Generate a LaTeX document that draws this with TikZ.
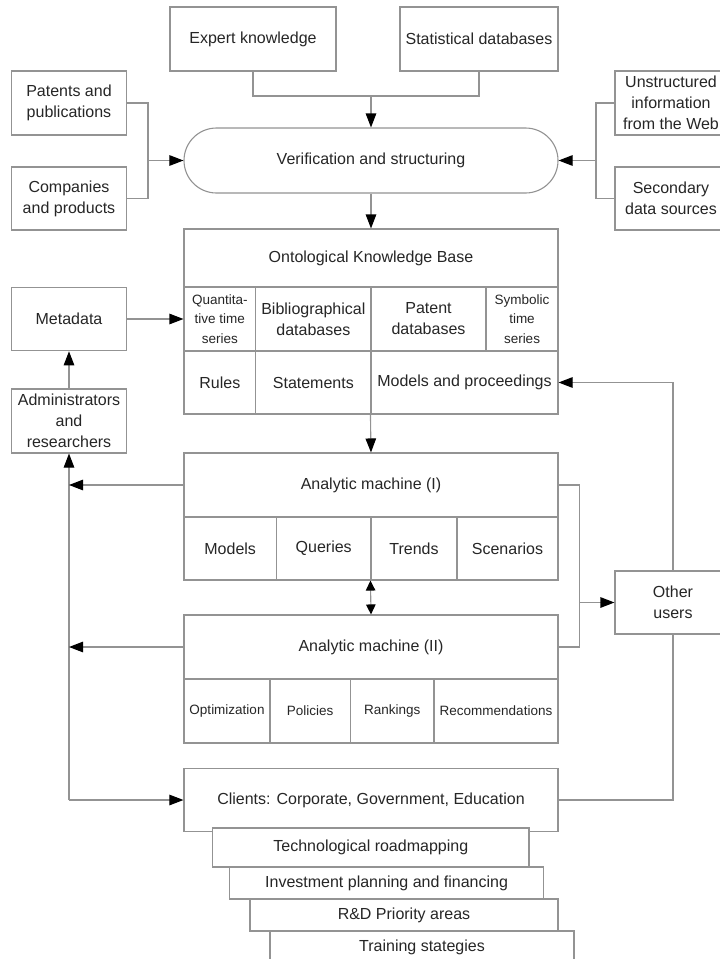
\documentclass[tikz,border=0pt]{standalone}
\usepackage{fontspec}
\setmainfont{Liberation Sans}
\usetikzlibrary{arrows.meta}
\begin{document}
\begin{tikzpicture}[x=1bp,y=-1bp,line width=1.1bp,
    bx/.style={draw=gray!85,fill=white,inner sep=1bp,align=center,text=black!85,
        font=\fontsize{16bp}{21bp}\selectfont},
    sbx/.style={font=\fontsize{13.5bp}{19.5bp}\selectfont},
    sz/.style 2 args={minimum width=#1bp,minimum height=#2bp},
    ln/.style={draw=gray!85},
    arr/.style={ln,-{Triangle[length=14bp,width=10.5bp,color=black]}},
    darr/.style={ln,{Triangle[length=10bp,width=9.5bp,color=black]}-{Triangle[length=10bp,width=9.5bp,color=black]}}]
\useasboundingbox (0,0) rectangle (720,959);
\node[bx,sz={166}{64}] (ek) at (253,39) {Expert knowledge};
\node[bx,sz={158}{64}] (sd) at (479,39) {Statistical databases};
\node[bx,sz={374}{65},rounded corners=32.5bp] (vs) at (371,160.5) {Verification and structuring};
\node[bx,sz={115.5}{64}] (pp) at (69,103) {Patents and\\publications};
\node[bx,sz={115.5}{63}] (cp) at (69,198.5) {Companies\\and products};
\node[bx,sz={112}{64}] (uw) at (671,103) {Unstructured\\information\\from the Web};
\node[bx,sz={112}{63}] (ds) at (671,198.5) {Secondary\\data sources};
\node[bx,sz={374}{58}] (kb) at (371,258) {Ontological Knowledge Base};
\node[bx,sbx,sz={71.7}{64}] (qt) at (219.85,319) {Quantita-\\tive time\\series};
\node[bx,sz={115.3}{64}] (bd) at (313.35,319) {Bibliographical\\databases};
\node[bx,sz={115}{64}] (pd) at (428.5,319) {Patent\\databases};
\node[bx,sbx,sz={72}{64}] (st) at (522,319) {Symbolic\\time\\series};
\node[bx,sz={71.7}{63}] (ru) at (219.85,382.5) {Rules};
\node[bx,sz={115.3}{63}] (sm) at (313.35,382.5) {Statements};
\node[bx,sz={187}{63}] (mp) at (464.5,382.5) {Models and proceedings};
\node[bx,sz={115.5}{63.5}] (md) at (69,319) {Metadata};
\node[bx,sz={115.5}{64}] (ad) at (69,421) {Administrators\\and\\researchers};
\node[bx,sz={374}{64}] (a1) at (371,485) {Analytic machine (I)};
\node[bx,sz={92.4}{63}] (mo) at (230.2,548.5) {Models};
\node[bx,sz={94.6}{63}] (qu) at (323.7,548.5) {Queries};
\node[bx,sz={86}{63}] (tr) at (414,548.5) {Trends};
\node[bx,sz={101}{63}] (sc) at (507.5,548.5) {Scenarios};
\node[bx,sz={374}{64}] (a2) at (371,647) {Analytic machine (II)};
\node[bx,sbx,sz={86}{64}] (op) at (227,711) {Optimization};
\node[bx,sbx,sz={80.3}{64}] (po) at (310.15,711) {Policies};
\node[bx,sbx,sz={83.7}{64}] (rk) at (392.15,711) {Rankings};
\node[bx,sbx,sz={124}{64}] (rc) at (496,711) {Recommendations};
\node[bx,sz={116}{63}] (ou) at (673,602.5) {Other\\users};
\node[bx,sz={374}{63.5}] (cl) at (371,800) {Clients: Corporate, Government, Education};
\node[bx,sz={316.4}{39}] (tro) at (370.8,847.5) {Technological roadmapping};
\node[bx,sz={314}{32}] (ipf) at (386.6,883) {Investment planning and financing};
\node[bx,sz={308}{32}] (rdp) at (404,915) {R\&D Priority areas};
\node[bx,sz={304}{32}] (tsg) at (422,947) {Training stategies};
\coordinate (j1) at (371,96);
\coordinate (lb) at (148,160.5);
\coordinate (rb) at (596,160.5);
\coordinate (lv) at (69,800);
\coordinate (mb) at (579.4,602.5);
\draw[ln] (ek.south) |- (j1) -| (sd.south);
\draw[arr] (j1) -- (vs.north);
\draw[ln] (pp.east) -| (lb) |- (cp.east);
\draw[arr] (lb) -- (vs.west);
\draw[ln] (uw.west) -| (rb) |- (ds.west);
\draw[arr] (rb) -- (vs.east);
\draw[arr] (vs.south) -- (kb.north);
\draw[arr] (md.east) -- (qt.west);
\draw[arr] (ad.north) -- (md.south);
\draw[arr] (mp.south west) -- (a1.north);
\draw[arr] (lv) -- (ad.south);
\draw[arr] (lv) -- (cl.west);
\draw[arr] (a1.west) -- (a1.west -| lv);
\draw[arr] (a2.west) -- (a2.west -| lv);
\draw[darr] (tr.south west) -- (a2.north);
\draw[ln] (a1.east) -| (mb) |- (a2.east);
\draw[arr] (mb) -- (ou.west);
\draw[arr] (ou.north) |- (mp.east);
\draw[ln] (ou.south) |- (cl.east);
\end{tikzpicture}
\end{document}
